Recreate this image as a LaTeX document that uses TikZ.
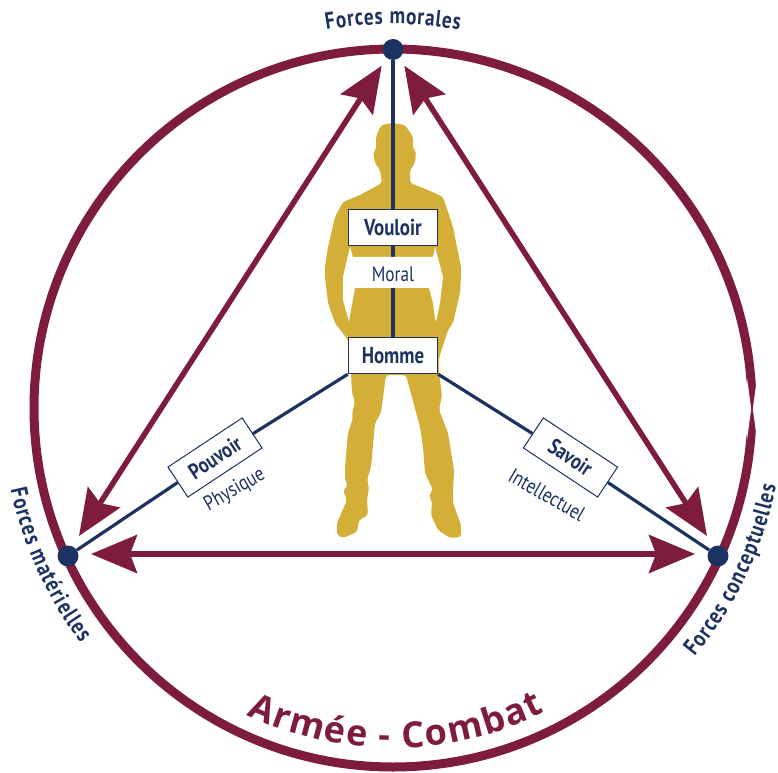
\documentclass[tikz,border=0pt]{standalone}
\usepackage{fontspec}
\usetikzlibrary{arrows.meta,decorations.text,calc}
\newfontfamily\condf[FakeStretch=0.82]{PT Sans}
\newfontfamily\widef{Open Sans}
\definecolor{maroon}{HTML}{7E1D3B}
\definecolor{navy}{HTML}{1C3260}
\definecolor{gold}{HTML}{D4AF37}
\pgfdeclarelayer{figure}
\pgfdeclarelayer{spine}
\pgfdeclarelayer{band}
\pgfsetlayers{figure,spine,band,main}
\tikzset{
  ring/.style={draw=maroon,line width=9pt},
  redarrow/.style={draw=maroon,line width=5.5pt,{Stealth[length=46pt,width=38pt,inset=7pt]}-{Stealth[length=46pt,width=38pt,inset=7pt]}},
  navyline/.style={draw=navy,line width=3.2pt},
  dotnode/.style={circle,fill=navy,minimum size=21pt,inner sep=0pt},
  bigbox/.style={draw=navy,line width=1.5pt,fill=white,minimum width=89pt,minimum height=36pt,inner sep=0pt,text=navy,font=\condf\bfseries\fontsize{23}{23}\selectfont},
  slantbox/.style={bigbox,line width=1pt,font=\condf\bfseries\fontsize{22}{22}\selectfont},
  softlabel/.style={inner sep=0pt,text=navy,font=\condf\fontsize{21}{21}\selectfont}
}
\begin{document}
\begin{tikzpicture}[x=1pt,y=1pt]
\useasboundingbox (0,0) rectangle (778,772);
\coordinate (ctr) at (393,364);
% ring and its seam
\draw[ring] (ctr) circle (359);
\fill[white] (747,394) -- (751.2,363) -- (747,332) -- (744,363) -- cycle;
\fill[white] (757,394) -- (752.8,363) -- (757,332) -- (760,363) -- cycle;
% nodes
\node[dotnode] (top) at (393,722.5) {};
\node[dotnode] (left) at (68,216) {};
\node[dotnode] (right) at (718,216) {};
\node[bigbox] (vouloir) at (393,544.5) {Vouloir};
\node[bigbox] (homme) at (393,416.5) {Homme};
\node[softlabel] (moral) at (393,498) {Moral};
\node[slantbox,rotate=33.5] (pouvoir) at (215,314.5) {Pouvoir};
\node[slantbox,rotate=-33.5] (savoir) at (570.5,314.5) {Savoir};
\node[softlabel,rotate=30] (physique) at (235,282) {Physique};
\node[softlabel,rotate=-30] (intellectuel) at (547,277) {Intellectuel};
% silhouette
\begin{pgfonlayer}{figure}
\begin{scope}[yshift=772pt,y=-1pt]
\fill[gold,rounded corners=3pt] (393,123) -- (381,125) -- (376,137) -- (376,150) -- (373,152) -- (375,163) -- (380,170) -- (382,183) -- (360,195) -- (343,202) -- (335,217) -- (328,247) -- (325,267) -- (325,277) -- (328,303) -- (335,323) -- (348,340) -- (351,373) -- (352,393) -- (355,402) -- (352,413) -- (353,418) -- (348,433) -- (345,467) -- (345,480) -- (348,486) -- (343,490) -- (347,500) -- (337,523) -- (337,535) -- (343,538) -- (357,532) -- (359,520) -- (368,515) -- (367,500) -- (369,487) -- (367,480) -- (371,467) -- (375,423) -- (381,413) -- (386,375) -- (406,375) -- (420,427) -- (423,447) -- (425,473) -- (433,490) -- (429,495) -- (432,502) -- (431,515) -- (438,530) -- (450,538) -- (461,537) -- (461,525) -- (453,503) -- (453,490) -- (454,470) -- (448,433) -- (443,420) -- (439,410) -- (442,395) -- (439,373) -- (439,358) -- (448,330) -- (453,323) -- (460,293) -- (461,277) -- (461,267) -- (453,227) -- (443,197) -- (428,190) -- (410,183) -- (410,170) -- (415,163) -- (416,150) -- (413,150) -- (413,137) -- (405,125) -- cycle;
\end{scope}
\end{pgfonlayer}
% spine
\begin{pgfonlayer}{spine}
\draw[navyline] (top) -- (vouloir);
\draw[navyline] (vouloir) -- (homme);
\draw[navyline] (homme.south west) -- (pouvoir);
\draw[navyline] (pouvoir) -- (left);
\draw[navyline] (homme.south east) -- (savoir);
\draw[navyline] (savoir) -- (right);
\end{pgfonlayer}
% white band
\begin{pgfonlayer}{band}
\begin{scope}[yshift=772pt,y=-1pt]
\fill[white] (350,247) -- (353,257) -- (433,257) -- (435,247) -- (443,277) -- (440,303) -- (436,322) -- (435,318) -- (433,303) -- (429,288) -- (355,288) -- (350,315) -- (349,322) -- (343,300) -- (343,277) -- cycle;
\end{scope}
\end{pgfonlayer}
% arrows
\coordinate (ta) at (381.7,706.3);
\coordinate (tb) at (79,236);
\coordinate (tc) at (404.3,706.3);
\coordinate (td) at (707,236);
\coordinate (te) at (91,218);
\coordinate (tf) at (695,218);
\draw[redarrow] (tb) -- (ta);
\draw[redarrow] (td) -- (tc);
\draw[redarrow] (te) -- (tf);
% curved labels
\path[decorate,decoration={text along path,text align={fit to path},text={|\condf\bfseries\fontsize{23.5}{23.5}\selectfont\color{navy}|Forces morales}}] ([shift={(100:384)}]ctr) arc (100:80:384);
\path[decorate,decoration={text along path,text align={fit to path},text={|\condf\bfseries\fontsize{23.5}{23.5}\selectfont\color{navy}|Forces matérielles}}] ([shift={(192:391)}]ctr) arc (192:217:391);
\path[decorate,decoration={text along path,text align={fit to path},text={|\condf\bfseries\fontsize{23.5}{23.5}\selectfont\color{navy}|Forces conceptuelles}}] ([shift={(-39.5:391)}]ctr) arc (-39.5:-11.5:391);
\path[decorate,decoration={text along path,text align={fit to path},text={|\widef\bfseries\fontsize{36}{36}\selectfont\color{maroon}|Armée - Combat}}] ([shift={(244.5:340)}]ctr) arc (244.5:296.5:340);
\end{tikzpicture}
\end{document}
